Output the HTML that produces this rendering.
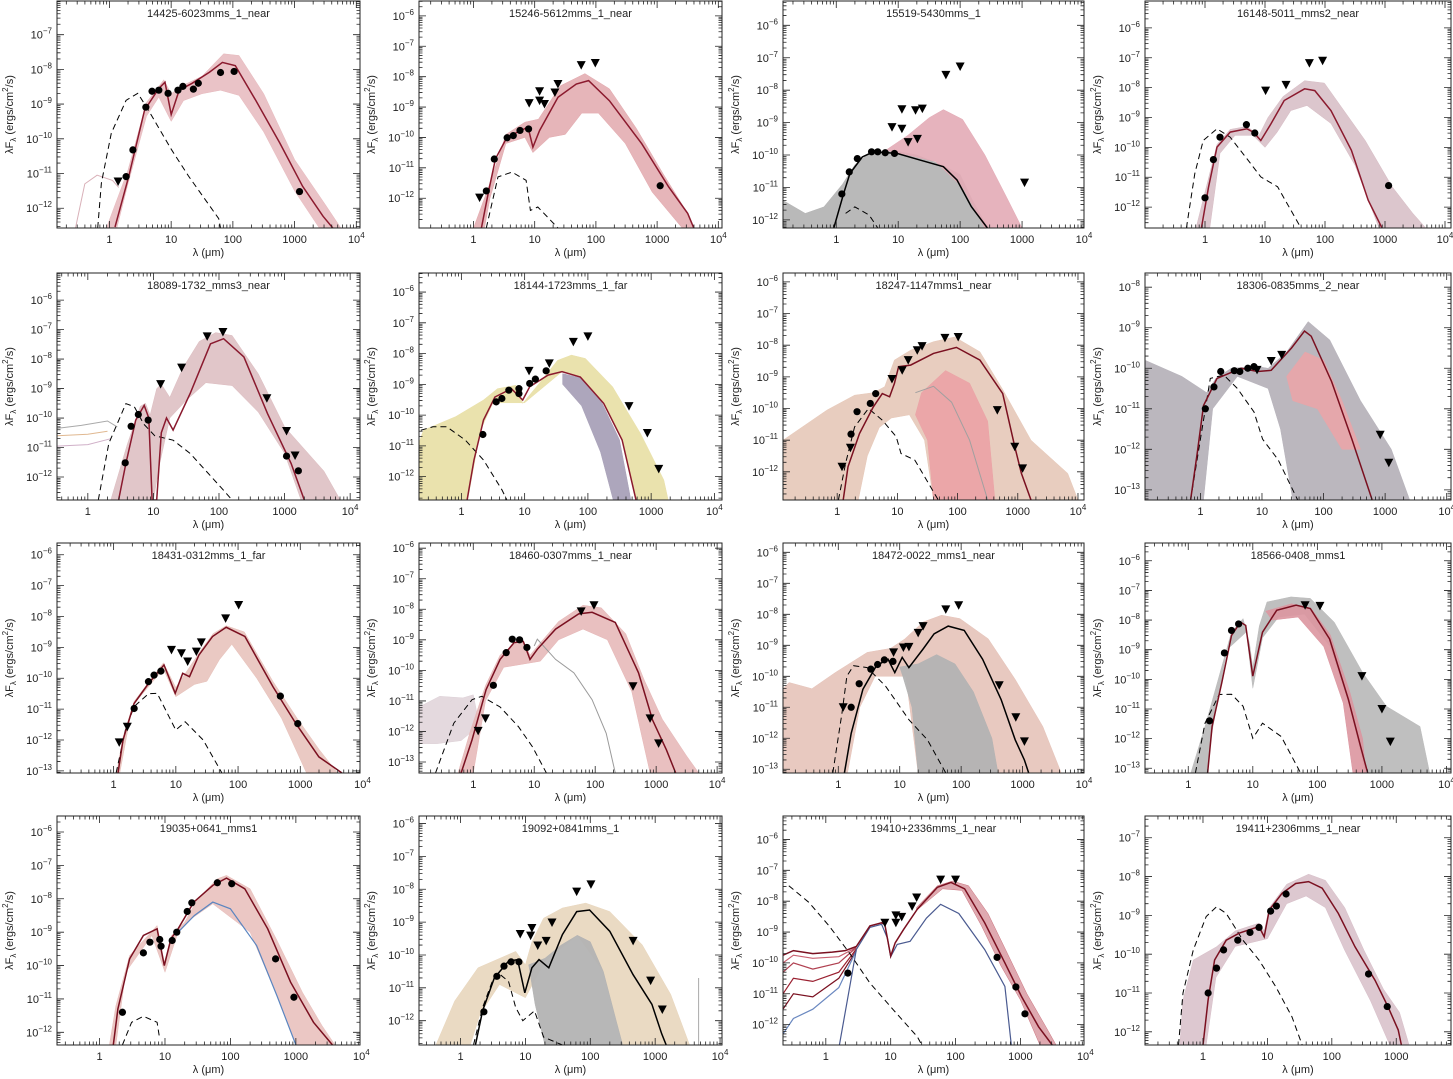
<!DOCTYPE html>
<html><head><meta charset="utf-8"><title>SED fits</title>
<style>
html,body{margin:0;padding:0;background:#fff;}
svg{display:block;font-family:"Liberation Sans",sans-serif;}
</style></head>
<body>
<svg id="fig" width="1453" height="1079" viewBox="0 0 1453 1079" xmlns="http://www.w3.org/2000/svg"></svg>
<script>
// ---- data (log10 wavelength [um], log10 lambda*F_lambda [erg/cm2/s]) ----
const p1Fit=[[0.09,-12.54],[0.31,-11.1],[0.57,-9.17],[0.8,-8.55],[0.9,-8.37],[1.0,-9.3],[1.13,-8.6],[1.34,-8.4],[1.62,-8.08],[1.83,-7.8],[2.04,-7.89],[2.37,-8.89],[2.76,-10.12],[3.13,-11.37],[3.46,-12.23],[3.62,-12.57]];
const p1Band=[[-0.05,-12.57],[0.3,-10.9],[0.6,-8.95],[0.88,-8.3],[1.0,-8.7],[1.2,-8.45],[1.5,-8.2],[1.85,-7.55],[2.1,-7.6],[2.5,-8.7],[3.0,-10.6],[3.5,-11.9],[3.75,-12.57],[3.4,-12.57],[3.0,-11.5],[2.5,-9.8],[2.1,-8.75],[1.8,-8.6],[1.5,-8.7],[1.2,-8.9],[1.0,-9.5],[0.8,-8.8],[0.6,-9.35],[0.3,-11.3],[0.12,-12.57]];
const p1Extra=[[-0.55,-12.57],[-0.4,-11.3],[-0.2,-11.05],[0.05,-11.2],[0.15,-11.4]];
const p1Dots=[[0.27,-11.09],[0.38,-10.32],[0.59,-9.09],[0.69,-8.63],[0.8,-8.6],[0.95,-8.69],[1.11,-8.6],[1.19,-8.49],[1.36,-8.57],[1.44,-8.4],[1.8,-8.09],[2.02,-8.06],[3.08,-11.52]];
const p1Lims=[[0.14,-11.23]];
const p1Star=[[-0.19,-12.57],[-0.13,-11.27],[0.03,-9.84],[0.27,-8.89],[0.46,-8.69],[0.63,-9.17],[1.0,-10.3],[1.28,-11.07],[1.77,-12.3],[1.8,-12.57]];

const p2Fit=[[0.13,-12.98],[0.25,-11.74],[0.36,-10.7],[0.55,-9.99],[0.89,-9.66],[0.97,-10.32],[1.08,-9.77],[1.38,-8.68],[1.68,-8.24],[1.88,-8.13],[2.22,-8.79],[2.75,-10.21],[3.19,-11.63],[3.5,-12.5],[3.6,-12.98]];
const p2Band=[[0.0,-12.98],[0.27,-11.5],[0.53,-9.9],[0.84,-9.5],[1.06,-9.4],[1.42,-8.3],[1.82,-7.9],[2.22,-8.4],[2.66,-9.7],[3.1,-11.2],[3.5,-12.5],[3.59,-12.98],[3.41,-12.98],[2.92,-11.8],[2.48,-10.2],[2.04,-9.2],[1.77,-9.2],[1.5,-9.9],[1.24,-10.0],[0.97,-10.5],[0.84,-10.0],[0.53,-10.2],[0.27,-12.0],[0.18,-12.98]];
const p2Dots=[[0.21,-11.76],[0.34,-10.71],[0.55,-10.01],[0.65,-9.94],[0.76,-9.77],[0.9,-9.72],[3.05,-11.59]];
const p2Lims=[[0.1,-11.98],[0.91,-8.87],[1.08,-8.48],[1.08,-8.79],[1.16,-8.9],[1.33,-8.52],[1.38,-8.24],[1.76,-7.62],[1.99,-7.55]];
const p2Star=[[0.21,-12.98],[0.4,-11.3],[0.63,-11.14],[0.86,-11.41],[0.93,-12.4],[1.05,-12.29],[1.38,-12.98]];

const p3Fit=[[-0.04,-12.25],[0.12,-11.18],[0.22,-10.57],[0.42,-10.06],[0.6,-9.9],[0.98,-9.95],[1.36,-10.16],[1.73,-10.36],[1.95,-10.77],[2.18,-11.59],[2.44,-12.25]];
const p3Grey=[[-0.86,-11.4],[-0.5,-11.8],[-0.2,-11.6],[0.1,-10.9],[0.3,-10.3],[0.5,-10.0],[0.9,-9.85],[1.3,-10.0],[1.7,-10.3],[2.0,-10.6],[2.2,-11.4],[2.45,-12.25],[-0.86,-12.25]];
const p3Band=[[0.8,-9.85],[1.15,-9.4],[1.5,-8.85],[1.73,-8.6],[2.04,-8.9],[2.4,-10.0],[2.75,-11.3],[3.0,-12.25],[2.4,-12.25],[2.04,-11.0],[1.6,-10.2],[1.15,-10.0]];
const p3Dots=[[0.09,-11.2],[0.21,-10.52],[0.34,-10.11],[0.57,-9.9],[0.67,-9.9],[0.79,-9.93],[0.94,-9.95]];
const p3Lims=[[0.9,-9.14],[1.06,-9.19],[1.28,-8.62],[1.39,-8.57],[1.06,-8.59],[1.16,-9.6],[1.31,-9.5],[1.77,-7.53],[2.0,-7.27],[3.04,-10.85]];
const p3Star=[[0.15,-11.8],[0.3,-11.6],[0.53,-11.85],[0.67,-12.25]];

const p4Fit=[[-0.06,-12.7],[0.06,-11.32],[0.2,-9.99],[0.42,-9.49],[0.7,-9.38],[0.81,-9.5],[0.93,-9.77],[1.1,-9.21],[1.32,-8.43],[1.66,-8.04],[1.83,-8.1],[2.1,-8.77],[2.44,-10.1],[2.72,-11.77],[2.95,-12.7]];
const p4Band=[[-0.15,-12.7],[0.05,-11.1],[0.2,-9.9],[0.42,-9.4],[0.7,-9.3],[0.9,-9.6],[1.05,-9.0],[1.3,-8.3],[1.66,-7.77],[1.99,-7.85],[2.67,-9.77],[3.12,-11.32],[3.46,-12.2],[3.68,-12.7],[2.9,-12.7],[2.5,-10.6],[2.1,-9.2],[1.7,-8.6],[1.43,-8.77],[1.2,-9.5],[1.0,-10.0],[0.8,-9.6],[0.5,-9.6],[0.25,-10.2],[0.08,-12.7]];
const p4Dots=[[0,-11.69],[0.14,-10.41],[0.25,-9.66],[0.69,-9.24],[0.83,-9.52],[3.06,-11.28]];
const p4Lims=[[1.01,-8.1],[1.35,-7.91],[1.74,-7.18],[1.96,-7.1]];
const p4Star=[[-0.31,-12.7],[-0.17,-10.88],[-0.03,-9.77],[0.2,-9.38],[0.42,-9.66],[0.76,-10.54],[0.93,-10.99],[1.21,-11.32],[1.6,-12.7]];

const p5Fit=[[0.47,-12.78],[0.58,-11.54],[0.73,-10.07],[0.86,-9.57],[0.93,-10.0],[0.98,-12.78],[1.05,-12.78],[1.12,-10.5],[1.2,-10.0],[1.3,-10.41],[1.56,-9.17],[1.87,-7.48],[2.07,-7.31],[2.38,-7.93],[2.74,-9.85],[3.1,-11.54],[3.3,-12.78]];
const p5Band=[[0.35,-12.78],[0.6,-10.9],[0.8,-9.6],[0.88,-9.5],[0.95,-9.9],[1.05,-9.0],[1.12,-8.85],[1.25,-9.3],[1.45,-8.3],[1.7,-7.4],[1.95,-7.1],[2.2,-7.2],[2.6,-8.5],[3.0,-10.3],[3.6,-11.8],[3.85,-12.78],[3.25,-12.78],[3.0,-11.2],[2.6,-9.8],[2.2,-8.9],[1.8,-8.8],[1.5,-9.4],[1.25,-10.0],[1.1,-11.5],[1.0,-12.78]];
const p5ExtraA=[[-0.47,-10.35],[-0.1,-10.25],[0.3,-10.1],[0.45,-10.3]];
const p5ExtraB=[[-0.47,-10.6],[0.0,-10.55],[0.3,-10.45]];
const p5ExtraC=[[-0.47,-10.95],[0.0,-10.9],[0.35,-10.7]];
const p5Dots=[[0.57,-11.52],[0.66,-10.28],[0.77,-9.88],[0.92,-10.07],[3.03,-11.29],[3.21,-11.79]];
const p5Lims=[[1.11,-8.85],[1.43,-8.29],[1.82,-7.23],[2.06,-7.08],[2.73,-9.33],[3.03,-10.44],[3.16,-11.27]];
const p5Star=[[0.16,-12.78],[0.32,-10.86],[0.58,-9.51],[0.71,-9.62],[0.85,-10.2],[1.02,-10.6],[1.3,-10.75],[1.56,-11.2],[2.07,-12.45],[2.2,-12.78]];

const p6Fit=[[0.09,-12.76],[0.2,-11.46],[0.35,-10.16],[0.53,-9.41],[0.79,-9.14],[0.97,-9.51],[1.08,-9.08],[1.37,-8.7],[1.59,-8.59],[1.88,-8.76],[2.25,-9.62],[2.54,-10.81],[2.76,-12.76]];
const p6Band=[[-0.67,-10.9],[-0.6,-10.49],[-0.09,-10.05],[0.35,-9.51],[0.57,-9.14],[0.86,-9.03],[0.97,-9.62],[1.23,-8.97],[1.52,-8.22],[1.74,-8.05],[1.96,-8.16],[2.39,-9.08],[2.83,-10.59],[3.2,-12.11],[3.27,-12.76],[2.76,-12.76],[2.54,-10.81],[2.25,-9.62],[1.88,-8.76],[1.59,-8.59],[1.0,-9.6],[0.5,-9.6],[0.3,-10.5],[0.1,-12.76],[-0.67,-12.76]];
const p6Lav=[[1.6,-8.65],[1.9,-8.8],[2.2,-9.5],[2.5,-10.8],[2.68,-12.76],[2.4,-12.76],[2.2,-11.2],[1.9,-9.7],[1.6,-9.0]];
const p6Dots=[[0.34,-10.63],[0.55,-9.57],[0.64,-9.46],[0.75,-9.19],[0.91,-9.14],[0.91,-9.3],[1.08,-8.97],[1.17,-8.83],[1.34,-8.56]];
const p6Lims=[[1.07,-8.56],[1.39,-8.32],[1.77,-7.62],[2.0,-7.44],[2.65,-9.71],[2.94,-10.58],[3.12,-11.75]];
const p6Star=[[-0.64,-10.49],[-0.45,-10.38],[-0.23,-10.38],[0.06,-10.81],[0.35,-11.46],[0.64,-12.43],[0.72,-12.76]];

const p7Fit=[[0.1,-12.89],[0.18,-11.84],[0.37,-10.79],[0.6,-9.95],[0.75,-9.53],[0.87,-9.63],[0.95,-9.21],[1.02,-8.68],[1.22,-8.63],[1.6,-8.26],[1.98,-8.07],[2.37,-8.47],[2.75,-9.53],[2.95,-11.21],[3.06,-12.05],[3.22,-12.89]];
const p7Band=[[-0.9,-11.0],[-0.17,-10.05],[0.29,-9.58],[0.6,-9.5],[0.79,-9.31],[0.95,-8.47],[1.22,-8.16],[1.6,-7.89],[1.95,-7.74],[2.37,-8.21],[2.75,-9.4],[3.22,-11.0],[3.83,-12.05],[4.0,-12.89],[1.6,-12.89],[1.45,-11.0],[1.2,-10.2],[0.9,-10.3],[0.7,-10.6],[0.5,-11.5],[0.35,-12.89],[-0.9,-12.89]];
const p7Pink=[[1.4,-9.5],[1.8,-8.8],[2.2,-9.2],[2.5,-10.4],[2.62,-12.89],[1.6,-12.89],[1.5,-11.0],[1.3,-10.2]];
const p7GreyLine=[[1.3,-9.5],[1.6,-9.3],[1.9,-9.8],[2.2,-11.0],[2.5,-12.89]];
const p7Dots=[[0.23,-10.81],[0.33,-10.1],[0.55,-9.84],[0.64,-9.53]];
const p7Lims=[[0.08,-11.84],[0.22,-11.24],[0.91,-9.07],[1.08,-8.79],[1.18,-8.47],[1.33,-8.16],[1.41,-8.03],[1.79,-7.77],[2.01,-7.74],[2.66,-10.05],[2.95,-11.21],[3.08,-11.89]];
const p7Star=[[0.02,-12.89],[0.14,-11.73],[0.29,-10.58],[0.52,-10.0],[0.75,-10.37],[0.98,-10.89],[1.06,-11.42],[1.29,-11.63],[1.68,-12.89]];

const p8Fit=[[-0.16,-13.25],[-0.05,-12.08],[0.05,-10.92],[0.27,-10.25],[0.66,-10.0],[0.93,-10.08],[1.15,-10.05],[1.48,-9.5],[1.69,-9.08],[1.8,-9.21],[2.13,-10.33],[2.46,-11.75],[2.79,-13.25]];
const p8Grey=[[-0.9,-9.8],[-0.3,-10.2],[0.1,-10.6],[0.25,-10.25],[0.5,-10.0],[0.9,-9.95],[1.1,-10.0],[1.4,-9.6],[1.75,-8.85],[2.1,-9.3],[2.6,-10.8],[3.1,-12.0],[3.4,-13.25],[1.5,-13.25],[1.3,-11.5],[1.1,-10.5],[0.6,-10.2],[0.2,-11.0],[0.05,-13.25],[-0.9,-13.25]];
const p8Pink=[[1.4,-10.2],[1.7,-9.6],[2.0,-9.8],[2.3,-10.8],[2.6,-12.0],[2.3,-12.0],[1.9,-11.0],[1.5,-10.8]];
const p8Dots=[[0.08,-11.0],[0.22,-10.46],[0.33,-10.08],[0.55,-10.06],[0.64,-10.08],[0.77,-10.0],[0.87,-9.96]];
const p8Lims=[[0.92,-10.04],[1.15,-9.82],[1.32,-9.67],[2.92,-11.64],[3.06,-12.33]];
const p8Star=[[-0.16,-13.25],[0.0,-11.75],[0.16,-10.25],[0.38,-10.17],[0.6,-10.5],[0.87,-11.08],[1.01,-11.75],[1.26,-12.25],[1.58,-13.25]];

const p9Fit=[[0.07,-13.07],[0.15,-12.0],[0.33,-10.82],[0.56,-10.17],[0.81,-9.57],[0.99,-10.49],[1.11,-9.84],[1.22,-9.95],[1.37,-9.25],[1.59,-8.65],[1.81,-8.35],[2.11,-8.65],[2.56,-10.27],[2.93,-11.47],[3.3,-12.55],[3.67,-13.07]];
const p9Band=[[0.05,-13.07],[0.15,-11.9],[0.33,-10.75],[0.8,-9.5],[1.0,-10.3],[1.2,-9.7],[1.4,-9.1],[1.6,-8.55],[1.81,-8.3],[2.1,-8.5],[2.56,-10.1],[2.95,-11.3],[3.3,-12.3],[3.6,-13.07],[3.1,-13.07],[2.7,-11.3],[2.3,-10.0],[1.9,-8.9],[1.7,-9.4],[1.5,-10.1],[1.3,-10.2],[1.0,-10.6],[0.8,-9.7],[0.3,-10.9],[0.1,-13.07]];
const p9Dots=[[0.33,-10.98],[0.56,-10.11],[0.65,-9.9],[0.76,-9.77],[2.68,-10.58],[2.96,-11.47]];
const p9Lims=[[0.09,-12.08],[0.22,-11.57],[0.93,-9.08],[1.09,-9.19],[1.19,-9.46],[1.33,-9.14],[1.41,-8.84],[1.8,-8.06],[2.01,-7.63]];
const p9Star=[[0.04,-13.07],[0.19,-11.68],[0.33,-10.92],[0.56,-10.5],[0.7,-10.49],[1.0,-11.68],[1.15,-11.41],[1.44,-12.0],[1.74,-13.07]];

const p10Fit=[[-0.2,-13.36],[-0.02,-12.28],[0.21,-10.63],[0.44,-9.64],[0.67,-9.09],[0.82,-9.05],[0.93,-9.64],[1.05,-9.31],[1.35,-8.65],[1.73,-8.15],[1.95,-8.1],[2.33,-8.43],[2.71,-10.08],[2.94,-11.62],[3.17,-12.61],[3.32,-13.36]];
const p10Band=[[-0.25,-13.36],[-0.05,-12.0],[0.2,-10.5],[0.44,-9.5],[0.8,-8.95],[0.93,-9.5],[1.1,-9.1],[1.4,-8.4],[1.8,-7.87],[2.1,-7.95],[2.5,-8.8],[2.8,-10.3],[3.1,-11.6],[3.5,-12.8],[3.7,-13.36],[2.9,-13.36],[2.6,-10.7],[2.2,-9.0],[1.8,-8.65],[1.4,-9.0],[1.1,-9.7],[0.5,-9.9],[0.2,-11.0],[0.0,-13.36]];
const p10Left=[[-0.89,-11.2],[-0.55,-10.85],[-0.17,-10.9],[0.0,-10.8],[0.1,-11.8],[-0.2,-12.3],[-0.6,-12.4],[-0.89,-12.4]];
const p10GreyLine=[[1.0,-9.2],[1.05,-8.98],[1.35,-9.64],[1.65,-10.08],[1.95,-10.96],[2.18,-12.06],[2.33,-13.36]];
const p10Dots=[[0.33,-10.49],[0.54,-9.42],[0.64,-8.98],[0.76,-9.0],[0.88,-9.25]];
const p10Lims=[[0.08,-11.98],[0.2,-11.57],[1.77,-8.07],[1.98,-7.87],[2.62,-10.52],[2.9,-11.57],[3.04,-12.39]];
const p10Star=[[-0.62,-13.36],[-0.32,-11.73],[-0.02,-10.96],[0.14,-10.85],[0.44,-11.2],[0.74,-11.84],[0.97,-12.5],[1.2,-13.36]];

const p11Fit=[[0.1,-13.12],[0.21,-11.84],[0.4,-10.42],[0.62,-9.66],[0.81,-9.45],[0.92,-9.88],[1.04,-9.39],[1.15,-9.72],[1.38,-9.12],[1.56,-8.63],[1.79,-8.38],[2.05,-8.52],[2.35,-9.45],[2.65,-10.75],[2.88,-12.05],[3.03,-12.7],[3.1,-13.12]];
const p11Band=[[-0.9,-10.4],[-0.8,-10.2],[-0.43,-10.4],[-0.05,-9.88],[0.47,-9.23],[0.85,-9.1],[1.08,-8.8],[1.38,-8.25],[1.68,-8.03],[1.98,-8.14],[2.44,-8.79],[2.88,-10.1],[3.33,-11.62],[3.63,-13.12],[1.3,-13.12],[1.1,-10.0],[0.6,-10.0],[0.35,-11.0],[0.15,-13.12],[-0.9,-13.12]];
const p11Grey=[[1.0,-9.7],[1.3,-9.6],[1.6,-9.3],[1.9,-9.6],[2.2,-10.5],[2.5,-12.0],[2.6,-13.12],[1.3,-13.12],[1.2,-11.0],[1.05,-10.0]];
const p11Dots=[[0.21,-11.0],[0.34,-10.24],[0.53,-9.77],[0.64,-9.62],[0.75,-9.47],[0.89,-9.52]];
const p11Lims=[[0.08,-11.0],[0.9,-9.23],[1.06,-9.07],[1.15,-9.05],[1.3,-8.6],[1.38,-8.38],[1.75,-7.84],[1.96,-7.71],[2.62,-10.29],[2.89,-11.32],[3.03,-12.1]];
const p11Star=[[-0.09,-13.12],[0.06,-11.18],[0.14,-9.99],[0.25,-9.66],[0.47,-9.72],[0.77,-10.32],[1.15,-11.4],[1.45,-12.05],[1.75,-13.12]];

const p12Fit=[[0.3,-13.16],[0.37,-11.59],[0.52,-10.11],[0.67,-8.52],[0.81,-8.07],[0.89,-8.18],[1.0,-9.89],[1.15,-8.41],[1.37,-7.67],[1.67,-7.5],[1.89,-7.61],[2.19,-8.64],[2.48,-10.68],[2.67,-12.27],[2.78,-13.16]];
const p12Grey=[[0.04,-13.16],[0.26,-11.59],[0.67,-8.4],[0.85,-7.95],[0.95,-8.8],[1.0,-9.6],[1.1,-8.2],[1.22,-7.39],[1.59,-7.22],[1.89,-7.27],[2.26,-8.07],[2.7,-9.77],[3.07,-10.91],[3.59,-11.59],[3.74,-13.16],[2.75,-13.16],[2.5,-10.9],[2.2,-8.9],[1.8,-7.8],[1.4,-7.9],[1.15,-8.6],[1.0,-10.3],[0.9,-8.4],[0.6,-9.0],[0.35,-12.0],[0.3,-13.16]];
const p12Pink=[[1.2,-7.7],[1.6,-7.45],[1.9,-7.6],[2.2,-8.5],[2.5,-10.4],[2.7,-12.0],[2.75,-13.16],[2.55,-13.16],[2.4,-10.8],[2.1,-8.9],[1.7,-7.9],[1.3,-8.0]];
const p12Dots=[[0.33,-11.4],[0.56,-9.11],[0.67,-8.35],[0.78,-8.13]];
const p12Lims=[[1.81,-7.5],[2.04,-7.52],[2.69,-9.89],[3.0,-11.0],[3.13,-12.1]];
const p12Star=[[0.11,-13.16],[0.26,-11.48],[0.48,-10.51],[0.67,-10.5],[0.85,-10.91],[1.0,-11.99],[1.15,-11.48],[1.44,-11.93],[1.74,-13.16]];

const p13Fit=[[0.21,-12.38],[0.28,-11.3],[0.46,-9.8],[0.67,-9.1],[0.88,-8.9],[0.99,-10.0],[1.09,-9.2],[1.2,-8.9],[1.44,-8.1],[1.73,-7.6],[1.94,-7.38],[2.22,-7.7],[2.57,-8.9],[2.92,-10.5],[3.27,-11.7],[3.56,-12.38]];
const p13Band=[[0.15,-12.38],[0.25,-11.2],[0.46,-9.7],[0.88,-8.8],[0.99,-9.9],[1.1,-9.1],[1.3,-8.7],[1.5,-8.0],[1.8,-7.4],[1.94,-7.3],[2.3,-7.7],[2.7,-9.2],[3.1,-10.8],[3.4,-11.8],[3.6,-12.38],[3.0,-12.38],[2.71,-10.9],[2.3,-9.0],[1.73,-8.15],[1.4,-8.6],[1.2,-9.0],[1.0,-10.2],[0.8,-9.1],[0.4,-10.2],[0.25,-12.38]];
const p13Blue=[[1.2,-9.0],[1.45,-8.5],[1.73,-8.1],[2.0,-8.3],[2.4,-9.4],[2.71,-10.9],[3.0,-12.38]];
const p13Dots=[[0.35,-11.4],[0.67,-9.62],[0.77,-9.3],[0.92,-9.22],[0.94,-9.42],[1.11,-9.25],[1.18,-9.0],[1.34,-8.38],[1.41,-8.12],[1.8,-7.52],[2.02,-7.55],[2.69,-9.8],[2.97,-10.95]];
const p13Lims=[];
const p13Star=[[0.35,-12.38],[0.49,-11.7],[0.67,-11.52],[0.88,-11.7],[0.92,-12.2]];

const p14Fit=[[0.23,-12.74],[0.34,-11.7],[0.52,-10.7],[0.74,-10.19],[0.88,-10.14],[0.99,-11.15],[1.1,-10.39],[1.21,-10.14],[1.36,-10.39],[1.57,-9.38],[1.79,-8.68],[1.99,-8.63],[2.3,-9.28],[2.66,-10.6],[2.95,-11.5],[3.1,-12.4],[3.17,-12.74]];
const p14Band=[[-0.38,-12.74],[-0.09,-11.4],[0.27,-10.39],[0.85,-9.89],[1.0,-10.3],[1.1,-9.6],[1.28,-8.88],[1.57,-8.57],[1.93,-8.42],[2.3,-8.68],[2.8,-9.69],[3.24,-11.2],[3.53,-12.74],[2.5,-12.74],[2.2,-10.5],[1.8,-9.4],[1.3,-10.2],[1.0,-11.3],[0.6,-10.9],[0.3,-11.8],[0.15,-12.74]];
const p14Grey=[[1.05,-10.3],[1.3,-10.1],[1.55,-9.7],[1.8,-9.4],[2.0,-9.6],[2.2,-10.5],[2.4,-12.0],[2.5,-12.74],[1.3,-12.74],[1.15,-11.5]];
const p14VLine=[[3.67,-10.7],[3.67,-12.74]];
const p14Dots=[[0.36,-11.73],[0.56,-10.65],[0.67,-10.34],[0.78,-10.21],[0.9,-10.21]];
const p14Lims=[[0.92,-9.36],[1.08,-9.41],[1.1,-9.18],[1.19,-9.71],[1.32,-9.57],[1.41,-9.01],[1.79,-8.07],[2.01,-7.85],[2.66,-9.57],[2.93,-10.78],[3.11,-11.66]];
const p14Star=[[0.2,-12.74],[0.34,-11.6],[0.49,-10.8],[0.58,-10.55],[0.74,-10.8],[0.85,-11.6],[0.96,-12.0],[1.14,-11.7],[1.28,-12.5],[1.57,-12.74]];

const p15Fit=[[-0.66,-9.75],[-0.5,-9.6],[-0.2,-9.7],[0.1,-9.65],[0.3,-9.6],[0.47,-9.47],[0.68,-8.8],[0.86,-8.7],[0.91,-8.75],[1.0,-9.78],[1.07,-9.35],[1.2,-8.91],[1.41,-8.26],[1.72,-7.55],[1.93,-7.39],[2.14,-7.6],[2.45,-8.7],[2.76,-10.0],[3.02,-11.1],[3.28,-12.07],[3.49,-12.66]];
const p15Band=[[1.4,-8.2],[1.72,-7.5],[1.95,-7.35],[2.2,-7.5],[2.5,-8.4],[2.8,-9.7],[3.1,-11.0],[3.4,-12.1],[3.55,-12.66],[3.3,-12.66],[3.0,-11.2],[2.7,-10.1],[2.4,-8.8],[2.1,-7.65],[1.8,-7.6],[1.4,-8.3]];
const p15RedA=[[-0.66,-10.0],[-0.5,-9.75],[-0.2,-9.85],[0.2,-9.8],[0.47,-9.5]];
const p15RedB=[[-0.66,-10.3],[-0.5,-10.0],[-0.2,-10.2],[0.2,-10.0],[0.47,-9.5]];
const p15RedC=[[-0.66,-11.0],[-0.5,-10.5],[-0.2,-10.6],[0.2,-10.3],[0.47,-9.55]];
const p15RedD=[[-0.66,-11.5],[-0.5,-11.0],[-0.2,-11.1],[0.2,-10.5],[0.47,-9.6]];
const p15BlueLeft=[[-0.66,-12.3],[-0.5,-11.8],[-0.2,-11.5],[0.2,-10.8],[0.47,-9.6]];
const p15Blue=[[0.21,-12.66],[0.36,-10.87],[0.47,-9.57],[0.68,-8.85],[0.86,-8.75],[0.95,-9.2],[1.0,-9.8],[1.1,-9.4],[1.3,-9.3],[1.55,-8.55],[1.77,-8.1],[2.05,-8.4],[2.45,-9.57],[2.76,-10.76],[2.86,-12.66]];
const p15Dots=[[0.34,-10.33],[2.64,-9.82],[2.93,-10.78],[3.07,-11.65]];
const p15Lims=[[0.91,-8.7],[1.08,-8.46],[1.08,-8.7],[1.17,-8.51],[1.33,-8.17],[1.4,-7.88],[1.77,-7.3],[2.0,-7.3]];
const p15Star=[[-0.57,-7.5],[-0.26,-8.04],[0.05,-8.8],[0.36,-9.67],[0.68,-10.65],[1.04,-11.52],[1.41,-12.39],[1.48,-12.66]];

const p16Fit=[[0,-12.34],[0.08,-11.18],[0.18,-10.15],[0.36,-9.64],[0.56,-9.46],[0.87,-9.29],[0.95,-9.55],[1.03,-8.86],[1.23,-8.43],[1.44,-8.18],[1.64,-8.13],[1.85,-8.3],[2.1,-8.95],[2.36,-9.81],[2.67,-10.67],[2.87,-11.35],[3.03,-11.95],[3.08,-12.34]];
const p16Band=[[-0.36,-12.34],[-0.31,-11.18],[-0.15,-10.15],[0.21,-9.81],[0.5,-9.4],[0.87,-9.2],[0.95,-9.4],[1.03,-8.8],[1.3,-8.2],[1.64,-7.94],[1.9,-8.1],[2.2,-8.8],[2.5,-9.9],[2.8,-10.9],[3.05,-11.5],[3.2,-12.34],[2.9,-12.34],[2.6,-11.2],[2.2,-9.9],[1.9,-8.8],[1.6,-8.5],[1.3,-8.7],[1.0,-9.6],[0.5,-9.8],[0.2,-10.6],[0.05,-12.34]];
const p16Dots=[[0.08,-11.0],[0.21,-10.36],[0.32,-9.89],[0.54,-9.64],[0.73,-9.44],[0.87,-9.31],[1.05,-8.89],[1.14,-8.76],[1.29,-8.45],[2.57,-10.51],[2.86,-11.35]];
const p16Lims=[];
const p16Star=[[-0.38,-12.34],[-0.31,-11.0],[-0.15,-9.89],[0.05,-9.03],[0.21,-8.78],[0.36,-8.95],[0.62,-9.64],[0.87,-10.15],[1.13,-10.84],[1.38,-11.61],[1.54,-12.34]];

const titles=["14425-6023mms_1_near","15246-5612mms_1_near","15519-5430mms_1","16148-5011_mms2_near","18089-1732_mms3_near","18144-1723mms_1_far","18247-1147mms1_near","18306-0835mms_2_near","18431-0312mms_1_far","18460-0307mms_1_near","18472-0022_mms1_near","18566-0408_mms1","19035+0641_mms1","19092+0841mms_1","19410+2336mms_1_near","19411+2306mms_1_near"];
const xDomains=[[-0.85,4.06],[-0.89,4.06],[-0.86,4.0],[-1.0,4.1],[-0.47,4.15],[-0.67,4.12],[-0.9,4.1],[-0.9,4.07],[-0.91,3.96],[-0.89,4.08],[-0.9,4.0],[-0.67,4.07],[-0.65,3.98],[-0.64,4.03],[-0.66,3.98],[-0.9,3.85]];
const yDomains=[[-12.57,-6.03],[-12.98,-5.51],[-12.25,-5.25],[-12.7,-5.1],[-12.78,-5.08],[-12.76,-5.38],[-12.89,-5.72],[-13.25,-7.65],[-13.07,-5.62],[-13.36,-5.83],[-13.12,-5.7],[-13.16,-5.4],[-12.38,-5.52],[-12.74,-5.77],[-12.66,-5.24],[-12.34,-6.44]];
const fits=[p1Fit,p2Fit,p3Fit,p4Fit,p5Fit,p6Fit,p7Fit,p8Fit,p9Fit,p10Fit,p11Fit,p12Fit,p13Fit,p14Fit,p15Fit,p16Fit];
const dots=[p1Dots,p2Dots,p3Dots,p4Dots,p5Dots,p6Dots,p7Dots,p8Dots,p9Dots,p10Dots,p11Dots,p12Dots,p13Dots,p14Dots,p15Dots,p16Dots];
const lims=[p1Lims,p2Lims,p3Lims,p4Lims,p5Lims,p6Lims,p7Lims,p8Lims,p9Lims,p10Lims,p11Lims,p12Lims,p13Lims,p14Lims,p15Lims,p16Lims];
const stars=[p1Star,p2Star,p3Star,p4Star,p5Star,p6Star,p7Star,p8Star,p9Star,p10Star,p11Star,p12Star,p13Star,p14Star,p15Star,p16Star];
const fitColors=["#8b1a2e","#8b1a2e","#000","#8b1a2e","#8b1a2e","#8b1a2e","#7a1020","#7a1020","#7a1020","#7a1020","#000","#7a1020","#7a1020","#000","#7a1020","#7a1020"];
const fills=[[0,p1Band,"#e6b9bd",0.85],[1,p2Band,"#e2a8ad",0.85],[2,p3Grey,"#b5b5b5",0.95],[2,p3Band,"#e3abb6",0.9],[3,p4Band,"#d6bcc4",0.85],[4,p5Band,"#dcbcc0",0.85],[5,p6Band,"#e9e0a9",0.95],[5,p6Lav,"#a9a1b8",0.95],[6,p7Band,"#e6c8b8",0.9],[6,p7Pink,"#eba3a6",0.95],[7,p8Grey,"#b7b3bb",0.95],[7,p8Pink,"#eaa5a8",0.9],[8,p9Band,"#e6c0b9",0.85],[9,p10Left,"#ddd0d6",0.8],[9,p10Band,"#e5b5b5",0.85],[10,p11Band,"#e5c3b9",0.9],[10,p11Grey,"#b3b3b3",0.95],[11,p12Grey,"#bcbcbc",0.95],[11,p12Pink,"#dc96a0",0.9],[12,p13Band,"#e7bdba",0.85],[13,p14Band,"#e8d6bd",0.9],[13,p14Grey,"#b3b3b3",0.95],[14,p15Band,"#c9707b",0.6],[15,p16Band,"#d7bec8",0.85]];
const extraLines=[[0,p1Extra,"#d9b0b8",1],[4,p5ExtraA,"#a9a9a9",1],[4,p5ExtraB,"#e0b890",1],[4,p5ExtraC,"#d0b0c8",1],[4,p5Fit,"#5a8fc8",1],[6,p7GreyLine,"#a0a0a0",1],[9,p10GreyLine,"#9a9a9a",1],[12,p13Blue,"#5a85c0",1.2],[13,p14VLine,"#aaaaaa",1],[14,p15RedA,"#c96070",1.2],[14,p15RedB,"#b04050",1.2],[14,p15RedC,"#9a2030",1.2],[14,p15RedD,"#7a1020",1.2],[14,p15BlueLeft,"#6a88c0",1.2],[14,p15Blue,"#4a5a90",1.2]];

// ---- layout ----
const colX=[[57,360],[419,722],[783,1084],[1145,1451]];
const rowY=[[1,228],[273,500],[543,773],[816,1045]];
const NS="http://www.w3.org/2000/svg";
const svg=document.getElementById('fig');
function mk(tag,attrs,parent){const e=document.createElementNS(NS,tag);for(const k in attrs)e.setAttribute(k,attrs[k]);(parent||svg).appendChild(e);return e;}
const supMinus="\u2212";

for(let i=0;i<16;i++){
  const c=i%4,r=Math.floor(i/4);
  const L=colX[c][0],R=colX[c][1],T=rowY[r][0],B=rowY[r][1];
  const [x0,x1]=xDomains[i],[y0,y1]=yDomains[i];
  const sx=v=>L+(v-x0)/(x1-x0)*(R-L);
  const sy=v=>T+(y1-v)/(y1-y0)*(B-T);
  const g=mk('g',{});
  
  
  const clipId='clip'+i;
  const cp=mk('clipPath',{id:clipId},g);
  mk('rect',{x:L,y:T,width:R-L,height:B-T},cp);
  const plot=mk('g',{'clip-path':'url(#'+clipId+')'},g);
  
  
  const pts=a=>a.map(p=>sx(p[0]).toFixed(1)+','+sy(p[1]).toFixed(1)).join(' ');
  fills.filter(f=>f[0]===i).forEach(f=>{
    const e=mk('polygon',{points:pts(f[1]),fill:f[2],'fill-opacity':f[3],stroke:f[2],'stroke-width':0.5},plot);
    
    
  });
  extraLines.filter(f=>f[0]===i).forEach(f=>{
    const e=mk('polyline',{points:pts(f[1]),fill:'none',stroke:f[2],'stroke-width':f[3]},plot);
    
    
  });
  const st=mk('polyline',{points:pts(stars[i]),fill:'none',stroke:'#000','stroke-width':1,'stroke-dasharray':'6,4'},plot);
  
  
  const fl=mk('polyline',{points:pts(fits[i]),fill:'none',stroke:fitColors[i],'stroke-width':1.5},plot);
  
  
  dots[i].forEach(p=>{
    const e=mk('circle',{cx:sx(p[0]),cy:sy(p[1]),r:3.6,fill:'#000'},plot);
    
    
  });
  lims[i].forEach(p=>{
    const X=sx(p[0]),Y=sy(p[1]);
    const e=mk('polygon',{points:(X-4.5)+','+(Y-4)+' '+(X+4.5)+','+(Y-4)+' '+X+','+(Y+4.5),fill:'#000'},plot);
    
    
  });
  const fr=mk('rect',{x:L,y:T,width:R-L,height:B-T,fill:'none',stroke:'#222','stroke-width':1},g);
  
  
  let tk='';
  for(let d=Math.floor(x0);d<=Math.ceil(x1);d++){
    for(let k=1;k<10;k++){
      const v=d+Math.log10(k); if(v<x0||v>x1) continue;
      const X=sx(v), len=k===1?7:3.5;
      tk+='M'+X+' '+B+'v'+(-len)+'M'+X+' '+T+'v'+len;
    }
  }
  for(let d=Math.floor(y0);d<=Math.ceil(y1);d++){
    for(let k=1;k<10;k++){
      const v=d+Math.log10(k); if(v<y0||v>y1) continue;
      const Y=sy(v), len=k===1?7:3.5;
      tk+='M'+L+' '+Y+'h'+len+'M'+R+' '+Y+'h'+(-len);
    }
  }
  const tp=mk('path',{d:tk,stroke:'#222','stroke-width':0.8,fill:'none'},g);
  
  
  for(let d=0;d<=4;d++){
    if(d<x0-0.01||d>x1+0.05) continue;
    const t=mk('text',{x:sx(d),y:B+15,'font-size':11,'text-anchor':'middle',fill:'#222'},g);
    
    
    if(d<4){t.textContent=String(Math.pow(10,d));}
    else{t.textContent='10';const s=mk('tspan',{dy:-5,'font-size':8},t);s.textContent='4';}
  }
  for(let d=Math.ceil(y0);d<=Math.floor(y1);d++){
    const t=mk('text',{x:L-5,y:sy(d)+4,'font-size':11,'text-anchor':'end',fill:'#222'},g);
    
    
    t.textContent='10';
    const s=mk('tspan',{dy:-5,'font-size':8},t);s.textContent=supMinus+Math.abs(d);
  }
  const tt=mk('text',{x:(L+R)/2,y:T+16,'font-size':11,'text-anchor':'middle',fill:'#222'},g);
  
  
  tt.textContent=titles[i];
  const xt=mk('text',{x:(L+R)/2,y:B+28,'font-size':11,'text-anchor':'middle',fill:'#222'},g);
  
  
  xt.textContent='\u03bb (\u03bcm)';
  const cy=(T+B)/2, cx=L-44;
  const yt=mk('text',{x:cx,y:cy,'font-size':11,'text-anchor':'middle',fill:'#222',transform:'rotate(-90 '+cx+' '+cy+')'},g);
  
  
  yt.appendChild(document.createTextNode('\u03bbF'));
  const sb=mk('tspan',{dy:3,'font-size':8},yt);sb.textContent='\u03bb';
  const m1=mk('tspan',{dy:-3},yt);m1.textContent=' (ergs/cm';
  const sp=mk('tspan',{dy:-5,'font-size':8},yt);sp.textContent='2';
  const m2=mk('tspan',{dy:5},yt);m2.textContent='/s)';
}
</script>
</body></html>
